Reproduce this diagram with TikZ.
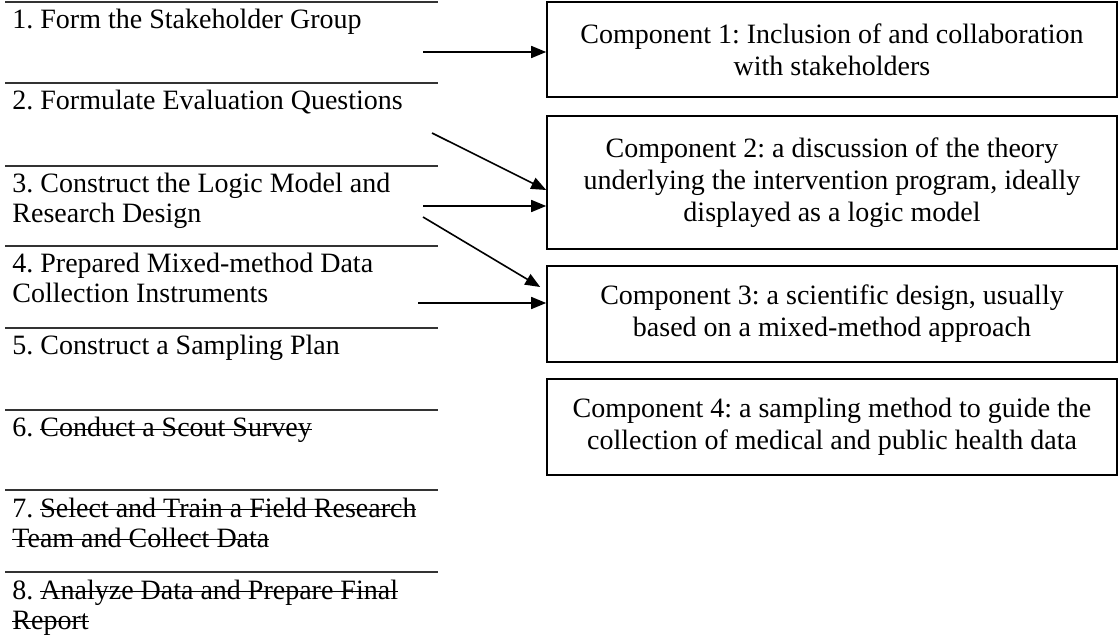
\documentclass[tikz,border=0pt]{standalone}
\usepackage{fontspec}
\setmainfont{Liberation Serif}
\usetikzlibrary{arrows.meta}
\usetikzlibrary{positioning}
\frenchspacing
\newsavebox{\strkbox}
\newcommand{\strk}[1]{\sbox{\strkbox}{#1}\rlap{\rule[0.27em]{\wd\strkbox}{0.45pt}}\usebox{\strkbox}}

\begin{document}
\begin{tikzpicture}[x=0.5pt,y=-0.5pt,
font=\fontsize{14pt}{15pt}\selectfont,
stepnode/.style={anchor=base west, inner sep=0pt, align=left},
compnode/.style={rectangle, draw=black, line width=0.8pt, minimum width=285pt, inner sep=0pt, align=center,
font=\fontsize{14pt}{16pt}\selectfont},
sepline/.style={line width=0.9pt, draw=black!80},
arr/.style={line width=0.8pt, -{Triangle[length=7.5pt,width=6pt]}},
]
\useasboundingbox (0,0) rectangle (1120,636);
%Separators
\foreach \y in {2,83,166,246,328,410,490,572}
  \draw[sepline] (5,\y) -- (438,\y);
%Steps (base = last line)
\node[stepnode] (s1) at (12,29)  {1. Form the Stakeholder Group};
\node[stepnode] (s2) at (12,110) {2. Formulate Evaluation Questions};
\node[stepnode] (s3) at (12,223) {3. Construct the Logic Model and\\Research Design};
\node[stepnode] (s4) at (12,303) {4. Prepared Mixed-method Data\\Collection Instruments};
\node[stepnode] (s5) at (12,355) {5. Construct a Sampling Plan};
\node[stepnode] (s6) at (12,437) {6. \strk{Conduct a Scout Survey}};
\node[stepnode] (s7) at (12,547) {7. \strk{Select and Train a Field Research}\\\strk{Team and Collect Data}};
\node[stepnode] (s8) at (12,629) {8. \strk{Analyze Data and Prepare Final}\\\strk{Report}};
%Components
\node[compnode, minimum height=47.5pt] (c1) at (832,49.5)  {Component 1: Inclusion of and collaboration\\with stakeholders};
\node[compnode, minimum height=66.5pt] (c2) at (832,182.5) {Component 2: a discussion of the theory\\underlying the intervention program, ideally\\displayed as a logic model};
\node[compnode, minimum height=48pt]   (c3) at (832,314)   {Component 3: a scientific design, usually\\based on a mixed-method approach};
\node[compnode, minimum height=48pt]   (c4) at (832,427)   {Component 4: a sampling method to guide the\\collection of medical and public health data};
%Arrow starts
\coordinate (a1) at (423,52);
\coordinate (a2) at (432,133);
\coordinate (a3) at (423,206);
\coordinate (a4) at (423,217);
\coordinate (a5) at (418,303);
%Lines
\draw[arr] (a1) -- (a1 -| c1.west);
\draw[arr] (a2) -- ([yshift=-3.75pt]c2.west);
\draw[arr] (a3) -- (a3 -| c2.west);
\draw[arr] (a4) -- ([xshift=-3pt,yshift=13.5pt]c3.west);
\draw[arr] (a5) -- (a5 -| c3.west);
\end{tikzpicture}
\end{document}
